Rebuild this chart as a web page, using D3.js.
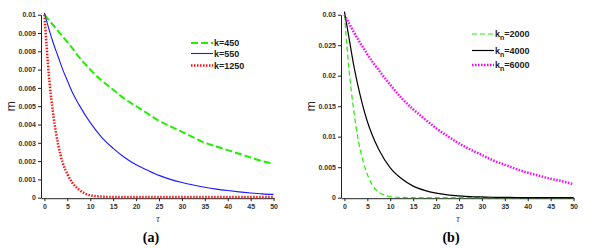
<!DOCTYPE html>
<html lang="en">
<head>
<meta charset="UTF-8">
<title>m vs tau</title>
<style>
  body { margin: 0; background: #fff; }
  .tick text { font-family: Arial, "Liberation Sans", sans-serif; font-size: 7px; font-weight: bold; fill: #333; }
  .domain, .tick line { stroke: #222; }
</style>
</head>
<body>
<svg id="mainsvg" width="591" height="248"></svg>
<script src="https://cdn.jsdelivr.net/npm/d3@7/dist/d3.min.js"></script>
<script>
  // tau samples shared by all curves
  const tau = [0, 1, 2, 3, 4, 5, 6, 7.5, 10, 12.5, 15, 17.5, 20, 22.5, 25, 27.5, 30, 32.5, 35, 37.5, 40, 42.5, 45, 47.5, 50]

  // panel (a)
  const kA = ['k=450', 'k=550', 'k=1250']
  const mK450 = [0.01, 0.0097, 0.0094, 0.0091, 0.0088, 0.0085, 0.0082, 0.0077, 0.0070, 0.0064, 0.0059, 0.0054, 0.0050, 0.0046, 0.0042, 0.0039, 0.0036, 0.0033, 0.0030, 0.0028, 0.0026, 0.0024, 0.0022, 0.0020, 0.00187]
  const mK550 = [0.0101, 0.0092, 0.0084, 0.0077, 0.0070, 0.0064, 0.0058, 0.0051, 0.0041, 0.0033, 0.0027, 0.0022, 0.0018, 0.0015, 0.00122, 0.0010, 0.00083, 0.00069, 0.00057, 0.00047, 0.00039, 0.00032, 0.00026, 0.00021, 0.00018]
  const mK1250 = [0.01, 0.0066, 0.0044, 0.0029, 0.0019, 0.0013, 0.00085, 0.00045, 0.00013, 0.00006, 0.00004, 0.00004, 0.00004, 0.00004, 0.00004, 0.00004, 0.00004, 0.00004, 0.00004, 0.00004, 0.00004, 0.00004, 0.00004, 0.00004, 0.00004]
  const yTicksA = [0, 0.001, 0.002, 0.003, 0.004, 0.005, 0.006, 0.007, 0.008, 0.009, 0.01]

  // panel (b)
  const kB = ['2000', '4000', '6000']
  const mKn2000 = [0.03, 0.021, 0.0145, 0.0095, 0.0062, 0.0038, 0.0022, 0.0009, 0.0002, 0.00005, 0, 0, 0, 0, 0, 0, 0, 0, 0, 0, 0, 0, 0, 0, 0]
  const mKn4000 = [0.0305, 0.0262, 0.0218, 0.0182, 0.0151, 0.0125, 0.0104, 0.0079, 0.0049, 0.0031, 0.0019, 0.0012, 0.00075, 0.00047, 0.0003, 0.00018, 0.00012, 0.00007, 0.00005, 0.00003, 0.00002, 0.00001, 0, 0, 0]
  const mKn6000 = [0.03, 0.0286, 0.0272, 0.0259, 0.0247, 0.0235, 0.0224, 0.0209, 0.0185, 0.0163, 0.0145, 0.0129, 0.0114, 0.0101, 0.0089, 0.0079, 0.007, 0.0061, 0.0054, 0.0047, 0.0041, 0.0036, 0.0031, 0.0027, 0.0022]
  const yTicksB = [0, 0.005, 0.01, 0.015, 0.02, 0.025, 0.03]

  const xTicks = d3.range(0, 51, 5)

  const svg = d3.select('#mainsvg')
  const fmt = d => d === 0 ? '0' : String(+d.toFixed(3))

  function panel(x0, yMax, yTicks, series, legendX, legendYs, letter) {
    const xScale = d3.scaleLinear().domain([-0.75, 50.1]).range([x0 + 41, x0 + 274])
    const yScale = d3.scaleLinear().domain([0, yMax]).range([197.7, 14.7])

    svg.append('g')
      .attr('transform', `translate(0, ${yScale(0) + 0.5})`)
      .call(d3.axisBottom(xScale).tickValues(xTicks).tickSize(3).tickSizeOuter(0).tickPadding(3))
    svg.append('g')
      .attr('transform', `translate(${x0 + 41}, 0)`)
      .call(d3.axisLeft(yScale).tickValues(yTicks).tickFormat(fmt).tickSize(3).tickSizeOuter(0).tickPadding(2))

    const line = d3.line().x((d, i) => xScale(tau[i])).y(d => yScale(d)).curve(d3.curveMonotoneX)
    series.forEach((s, i) => {
      svg.append('path')
        .attr('d', line(s.values))
        .attr('fill', 'none')
        .attr('stroke', s.color)
        .attr('stroke-width', s.width)
        .attr('stroke-dasharray', s.dash)

      const ly = legendYs[i]
      svg.append('line')
        .attr('x1', legendX).attr('x2', legendX + 22)
        .attr('y1', ly).attr('y2', ly)
        .attr('stroke', s.color)
        .attr('stroke-width', s.width)
        .attr('stroke-dasharray', s.dash)
      const t = svg.append('text')
        .attr('x', legendX + 23).attr('y', ly + 3)
        .attr('font-family', 'Arial, "Liberation Sans", sans-serif')
        .attr('font-size', '9px').attr('font-weight', 'bold').attr('fill', '#222')
      if (s.sub) {
        t.append('tspan').text('k')
        t.append('tspan').attr('font-size', '7px').attr('dy', 3).text('n')
        t.append('tspan').attr('dy', -3).text('=' + s.label)
      } else {
        t.text(s.label)
      }
    })

    // axis labels
    svg.append('text')
      .attr('transform', `translate(${x0 + 15}, ${yScale(yMax / 2)}) rotate(-90)`)
      .attr('text-anchor', 'middle')
      .attr('font-family', 'Arial, "Liberation Sans", sans-serif')
      .attr('font-size', '12px').attr('fill', '#222')
      .text('m')
    svg.append('text')
      .attr('x', x0 + 158).attr('y', 222)
      .attr('text-anchor', 'middle')
      .attr('font-family', '"Liberation Serif", "DejaVu Serif", serif')
      .attr('font-style', 'italic').attr('font-size', '11px').attr('fill', '#555')
      .text('τ')
    svg.append('text')
      .attr('x', x0 + 151).attr('y', 242)
      .attr('text-anchor', 'middle')
      .attr('font-family', '"Liberation Serif", "DejaVu Serif", serif')
      .attr('font-weight', 'bold').attr('font-size', '14px').attr('fill', '#000')
      .text(`(${letter})`)
  }

  panel(0, 0.01, yTicksA, [
    { label: kA[0], values: mK450, color: '#22ee00', width: 2, dash: '7,3' },
    { label: kA[1], values: mK550, color: '#1a1aff', width: 1.1, dash: null },
    { label: kA[2], values: mK1250, color: '#ff1010', width: 2.5, dash: '1.5,1.5' }
  ], 191, [43, 53.5, 65.5], 'a')

  panel(300, 0.03, yTicksB, [
    { label: kB[0], sub: true, values: mKn2000, color: '#22ee00', width: 1.2, dash: '5,3' },
    { label: kB[1], sub: true, values: mKn4000, color: '#000', width: 1.2, dash: null },
    { label: kB[2], sub: true, values: mKn6000, color: '#ff00ff', width: 2.5, dash: '1.5,1.5' }
  ], 472, [34, 50.5, 65], 'b')
</script>
</body>
</html>
